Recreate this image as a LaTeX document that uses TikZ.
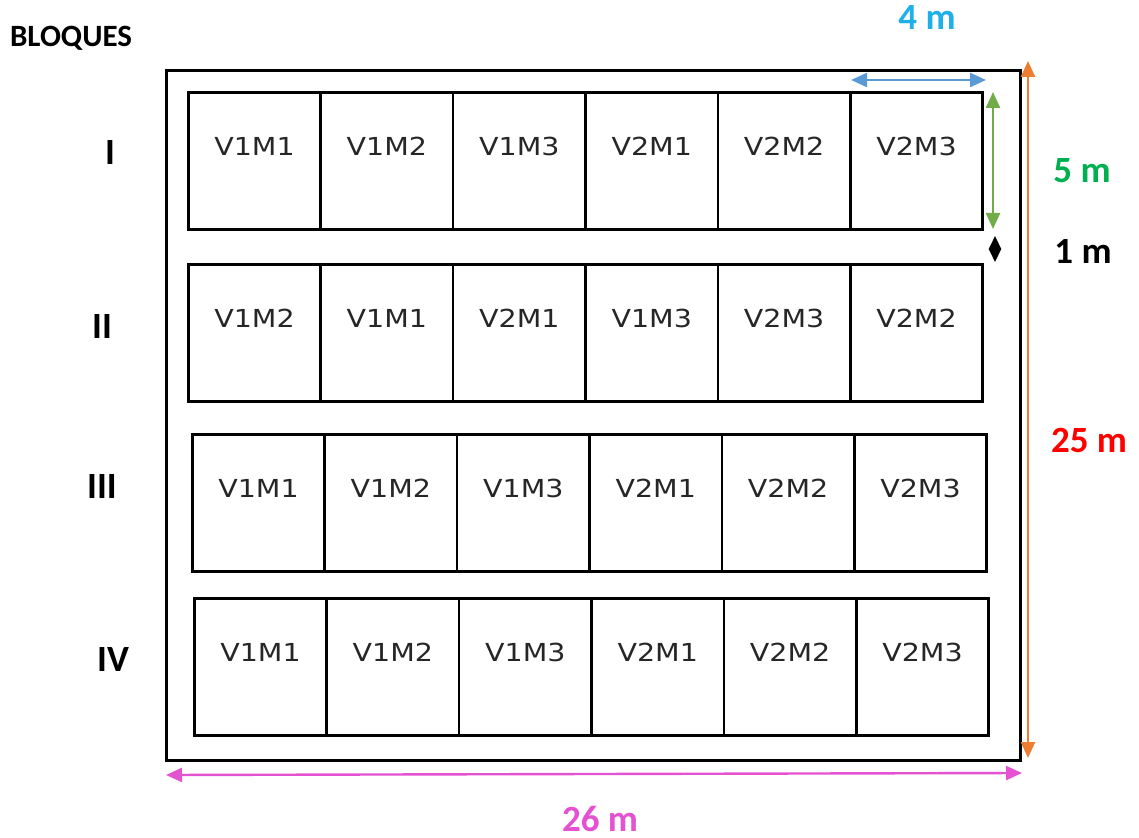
\documentclass[tikz,border=0pt]{standalone}
\usepackage{fontspec}
\setmainfont{DejaVu Sans}
\newfontfamily\cellfont[FakeStretch=1.15]{DejaVu Sans}
\newfontfamily\boldlab[BoldFont={Carlito Bold}]{Carlito}
\usetikzlibrary{arrows.meta, positioning}
\definecolor{dimblue}{HTML}{5B9BD5}
\definecolor{txtblue}{HTML}{1FB0EA}
\definecolor{dimgreen}{HTML}{70AD47}
\definecolor{txtgreen}{HTML}{00B050}
\definecolor{dimorange}{HTML}{ED7D31}
\definecolor{dimpink}{HTML}{E452D2}

\begin{document}
\begin{tikzpicture}[x=0.5pt, y=-0.5pt,
        cell/.style={draw, line width=1.3pt, minimum width=66.2pt, minimum height=68.5pt,
            inner sep=0pt, anchor=north west},
        celltxt/.style={font=\cellfont\fontsize{12.4}{14}\selectfont, text=black!85},
        blocklab/.style={font=\boldlab\bfseries\fontsize{18.5}{20}\selectfont},
        dimlab/.style={font=\boldlab\bfseries\fontsize{18.5}{20}\selectfont, inner sep=1pt},
        dimarrow/.style={line width=1.2pt, {Triangle[length=8pt,width=7pt]}-{Triangle[length=8pt,width=7pt]}}]

    \useasboundingbox (0,0) rectangle (1139,838);

    % Field
    \node[draw, line width=1.5pt, minimum width=427pt, minimum height=345pt,
        inner sep=0pt, anchor=north west] (field) at (165,69) {};

    % Plots
    \foreach \row/\xx/\yy/\names in {
            1/187/91/{V1M1,V1M2,V1M3,V2M1,V2M2,V2M3},
            2/187/263/{V1M2,V1M1,V2M1,V1M3,V2M3,V2M2},
            3/191/433/{V1M1,V1M2,V1M3,V2M1,V2M2,V2M3},
            4/193/597/{V1M1,V1M2,V1M3,V2M1,V2M2,V2M3}} {
        \foreach \n [count=\i] in \names {
            \node[cell] (c\row\i) at (\xx+132.4*\i-132.4, \yy) {};
            \node[celltxt] (t\row\i) at ([yshift=-27.5pt]c\row\i.north) {\n};
        }
    }

    % Blocks
    \node[font=\boldlab\bfseries\fontsize{15.5}{17}\selectfont] (title) at (71,38) {BLOQUES};
    \node[blocklab] (b1) at (110,153) {I};
    \node[blocklab] (b2) at (102,327) {II};
    \node[blocklab] (b3) at (102,487) {III};
    \node[blocklab] (b4) at (113,660) {IV};

    % Dimensions
    \coordinate (w0) at (851,80);
    \coordinate (w1) at (986,80);
    \coordinate (h0) at (993,92);
    \coordinate (h1) at (993,229);
    \coordinate (s0) at (995,236);
    \coordinate (s1) at (995,262);
    \coordinate (L0) at (1028,61);
    \coordinate (L1) at (1028,758);
    \coordinate (W0) at (166,775);
    \coordinate (W1) at (1022,773);

    \draw[dimarrow, dimblue] (w0) -- (w1);
    \draw[dimarrow, dimgreen] (h0) -- (h1);
    \draw[line width=1pt, {Triangle[length=6.5pt,width=6pt]}-{Triangle[length=6.5pt,width=6pt]}] (s0) -- (s1);
    \draw[dimarrow, dimorange] (L0) -- (L1);
    \draw[dimarrow, dimpink] (W0) -- (W1);

    \node[dimlab, txtblue] (lw) at (927,18) {4 m};
    \node[dimlab, txtgreen] (lh) at (1082,171) {5 m};
    \node[dimlab] (ls) at (1083,251) {1 m};
    \node[dimlab, red] (lL) at (1089,440) {25 m};
    \node[dimlab, dimpink] (lW) at (600,819) {26 m};
\end{tikzpicture}
\end{document}
